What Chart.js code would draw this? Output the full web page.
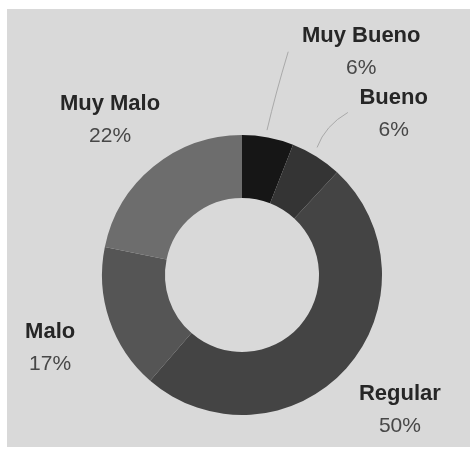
<!DOCTYPE html>
<html>
<head>
<meta charset="utf-8">
<script src="https://cdn.jsdelivr.net/npm/chart.js@4/dist/chart.umd.min.js"></script>
<style>
  html, body { margin: 0; padding: 0; background: #ffffff; }
  canvas { display: block; }
</style>
</head>
<body>
<canvas id="chart" width="470" height="449"></canvas>
<script>
// Categorías y porcentajes de la encuesta
const categories = ['Muy Bueno', 'Bueno', 'Regular', 'Malo', 'Muy Malo'];
const percentages = [6, 6, 50, 17, 22];
const sliceColors = ['#161616', '#343434', '#444444', '#555555', '#6d6d6d'];

// Placement of each label: distance beyond the ring and turn (degrees) from the slice middle
const labelPlacement = [
  { extra: 114, turn: 17.3 },
  { extra: 82, turn: 11 },
  { extra: 67, turn: -1.6 },
  { extra: 65, turn: -1.9 },
  { extra: 64, turn: -1.1 }
];
// Leader lines for the narrow slices: [radius beyond ring, turn in degrees] for start, control, end
const leaderLines = {
  0: { from: [7, -0.9], ctrl: [45, -0.2], to: [88, 1.0] },
  1: { from: [8, -1.6], ctrl: [31, -3.0], to: [54, 1.0] }
};

const deg = Math.PI / 180;

const backdrop = {
  id: 'backdrop',
  beforeDraw(chart) {
    const ctx = chart.ctx;
    ctx.save();
    ctx.fillStyle = '#ffffff';
    ctx.fillRect(0, 0, chart.width, chart.height);
    ctx.fillStyle = '#d9d9d9';
    ctx.fillRect(7, 9, chart.width - 7, chart.height - 11);
    ctx.restore();
  }
};

const sliceLabels = {
  id: 'sliceLabels',
  afterDatasetsDraw(chart) {
    const ctx = chart.ctx;
    const meta = chart.getDatasetMeta(0);
    const values = chart.data.datasets[0].data;
    meta.data.forEach((arc, i) => {
      const p = arc.getProps(['x', 'y', 'startAngle', 'endAngle', 'outerRadius'], true);
      const mid = (p.startAngle + p.endAngle) / 2;
      const at = (extra, turn) => {
        const a = mid + turn * deg;
        const r = p.outerRadius + extra;
        return [p.x + r * Math.cos(a), p.y + r * Math.sin(a)];
      };
      ctx.save();
      const line = leaderLines[i];
      if (line) {
        const s = at(line.from[0], line.from[1]);
        const c = at(line.ctrl[0], line.ctrl[1]);
        const e = at(line.to[0], line.to[1]);
        ctx.strokeStyle = '#a9a9a9';
        ctx.lineWidth = 1;
        ctx.beginPath();
        ctx.moveTo(s[0], s[1]);
        ctx.quadraticCurveTo(c[0], c[1], e[0], e[1]);
        ctx.stroke();
      }
      const place = labelPlacement[i];
      const pos = at(place.extra, place.turn);
      ctx.textAlign = 'center';
      ctx.textBaseline = 'middle';
      ctx.fillStyle = '#262626';
      ctx.font = 'bold 22px "Liberation Sans", Arial, sans-serif';
      ctx.fillText(chart.data.labels[i], pos[0], pos[1] - 15);
      ctx.fillStyle = '#474747';
      ctx.font = '21px "Liberation Sans", Arial, sans-serif';
      ctx.fillText(values[i] + '%', pos[0], pos[1] + 17);
      ctx.restore();
    });
  }
};

new Chart(document.getElementById('chart'), {
  type: 'doughnut',
  data: {
    labels: categories,
    datasets: [{
      data: percentages,
      backgroundColor: sliceColors,
      borderWidth: 0
    }]
  },
  options: {
    responsive: false,
    animation: false,
    cutout: '55%',
    layout: { padding: { left: 102, right: 88, top: 135, bottom: 34 } },
    plugins: {
      legend: { display: false },
      tooltip: { enabled: false }
    }
  },
  plugins: [backdrop, sliceLabels]
});
</script>
</body>
</html>
